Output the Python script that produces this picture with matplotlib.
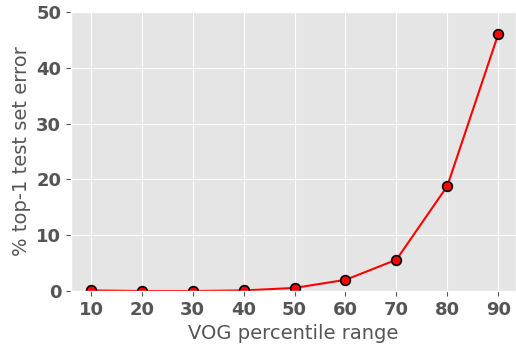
import matplotlib
matplotlib.use("Agg")
import matplotlib.pyplot as plt

plt.style.use("ggplot")

percentiles = [10, 20, 30, 40, 50, 60, 70, 80, 90]
errors = [0.1, 0.0, 0.0, 0.1, 0.55, 2.0, 5.6, 18.8, 46.0]

fig = plt.figure(figsize=(5.16, 3.45), dpi=100)
ax = fig.add_axes([71/516, 1 - 291/345, 1 - 71/516, (291 - 12)/345])
ax.plot(percentiles, errors, color="red", linewidth=1.5, marker="o",
        markersize=7, markerfacecolor="red", markeredgecolor="black",
        markeredgewidth=1.2)
ax.set_xlim(6.07, 93.5)
ax.set_ylim(0, 50)
ax.set_xticks(percentiles)
ax.set_yticks([0, 10, 20, 30, 40, 50])
for lab in ax.get_xticklabels() + ax.get_yticklabels():
    lab.set_fontweight("bold")
    lab.set_fontsize(13)
    lab.set_color("#555555")
ax.set_xlabel("VOG percentile range", fontsize=14, color="#555555")
ax.set_ylabel("% top-1 test set error", fontsize=14, color="#555555")
fig.savefig("out.png", dpi=100)
